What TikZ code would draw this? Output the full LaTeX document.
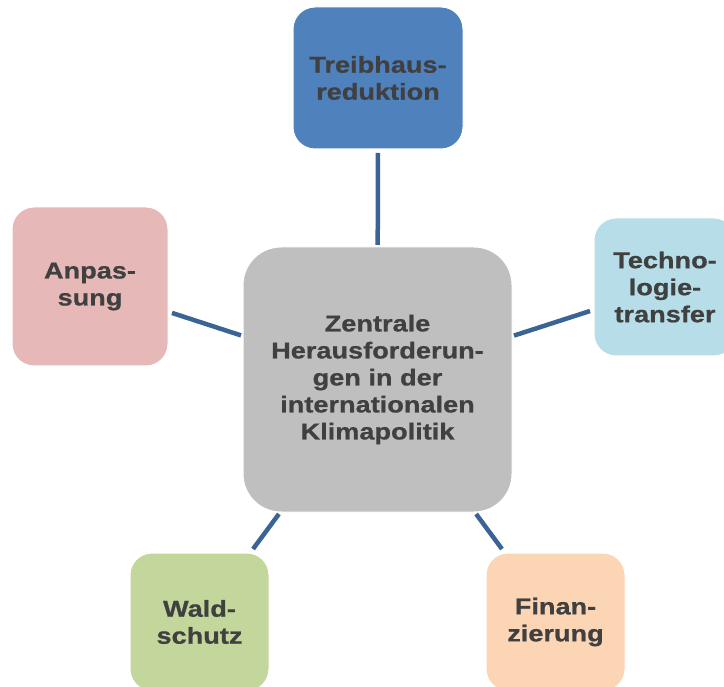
\documentclass[tikz,border=0pt]{standalone}
\usepackage{fontspec}
\newfontfamily\labfont{Liberation Sans}[FakeStretch=1.18,FakeBold=0.8]
\definecolor{cblue}{HTML}{4F81BD}
\definecolor{clight}{HTML}{B7DEE8}
\definecolor{cpink}{HTML}{E6B9B8}
\definecolor{cgreen}{HTML}{C3D69B}
\definecolor{cpeach}{HTML}{FCD5B5}
\definecolor{cgray}{HTML}{BFBFBF}
\definecolor{ctext}{HTML}{404040}
\definecolor{cline}{HTML}{3A6396}
\tikzset{
  box/.style={draw=white, line width=1pt, inner sep=0pt, outer sep=4pt, align=center,
    text=ctext, font=\labfont\bfseries\fontsize{23}{27}\selectfont,
    rounded corners=22pt},
  conn/.style={draw=cline, line width=4.5pt}
}
\begin{document}
\begin{tikzpicture}[x=1pt,y=-1pt]
\useasboundingbox (0,0) rectangle (724,687);
\clip (0,0) rectangle (724,687);
\node[box, fill=cgray, minimum width=269pt, minimum height=265pt, rounded corners=38pt, outer sep=2pt] (c) at (377.5,379.5)
  {Zentrale\\Herausforderun-\\gen in der\\internationalen\\Klimapolitik};
\node[box, fill=cblue, minimum width=170pt, minimum height=142pt] (t) at (378,78) {Treibhaus-\\reduktion};
\node[box, fill=clight, minimum width=142pt, minimum height=138pt] (r) at (665,287) {Techno-\\logie-\\transfer};
\node[box, fill=cpink, minimum width=156pt, minimum height=159pt] (l) at (90,286.5) {Anpas-\\sung};
\node[box, fill=cgreen, minimum width=139pt, minimum height=138pt] (bl) at (199.5,622) {Wald-\\schutz};
\node[box, fill=cpeach, minimum width=139pt, minimum height=138pt] (br) at (555.5,622) {Finan-\\zierung};
\draw[conn] (c) -- (t);
\draw[conn] (c) -- (r);
\draw[conn] (c) -- (l);
\draw[conn] (c) -- (bl);
\draw[conn] (c) -- (br);
\end{tikzpicture}
\end{document}
